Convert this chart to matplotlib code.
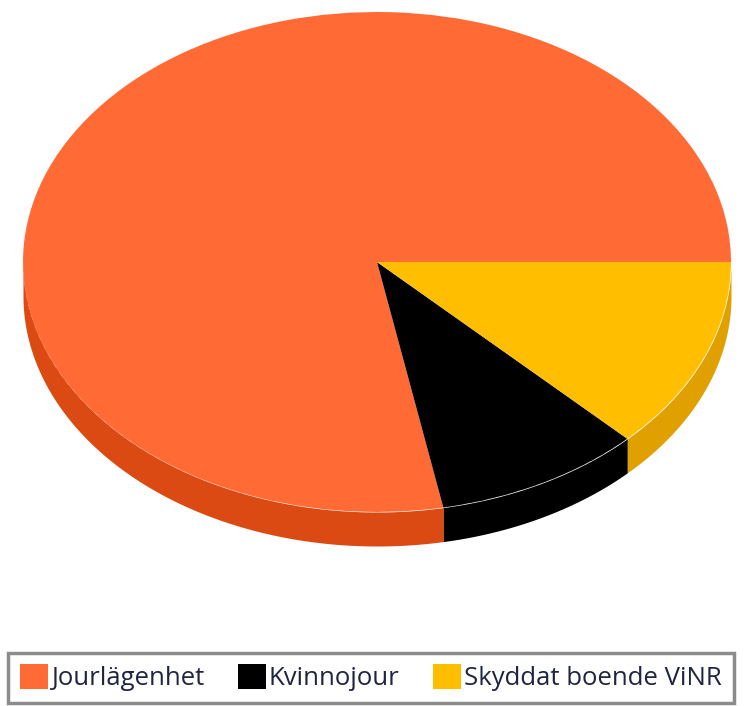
import numpy as np
import matplotlib
matplotlib.use("Agg")
import matplotlib.pyplot as plt

labels = ["Jourlägenhet", "Kvinnojour", "Skyddat boende ViNR"]
shares = [78.0, 9.5, 12.5]
top_colors = ["#FF6A35", "#000000", "#FFBF00"]
side_colors = ["#DC4A13", "#000000", "#E0A100"]

W, H = 744, 706
cx, cy, rx, ry = 377, 262, 354, 250
depth = 34 / ry

fig = plt.figure(figsize=(W / 100, H / 100), dpi=100)
ax = fig.add_axes([0, 0, 1, 1])

wedges, _ = ax.pie(shares, colors=top_colors, startangle=0, counterclock=True,
                   wedgeprops={"linewidth": 0}, radius=1)
for w in wedges:
    w.set_zorder(3)

# side wall, only the part of each slice facing the viewer
ends = np.cumsum(shares) / np.sum(shares) * 360
starts = np.r_[0, ends[:-1]]
for a, b, c in zip(starts, ends, side_colors):
    a2, b2 = max(a, 180), max(b, 180)
    if b2 <= a2:
        continue
    t = np.radians(np.linspace(a2, b2, 200))
    ax.fill_between(np.cos(t), np.sin(t), np.sin(t) - depth, color=c, lw=0, zorder=2)
    # faint light rim along the top edge
    ax.plot(np.cos(t), np.sin(t), color="white", lw=0.7, alpha=0.15, ls=(0, (6, 5)), zorder=4)

ax.set_aspect("auto")
ax.set_xlim(-cx / rx, (W - cx) / rx)
ax.set_ylim((cy - H) / ry, cy / ry)
ax.axis("off")

fs = 18.5
leg = fig.legend(wedges, labels, ncol=3, loc="lower left",
                 bbox_to_anchor=(8 / W, (H - 703) / H), bbox_transform=fig.transFigure,
                 prop={"family": "Open Sans", "size": fs},
                 frameon=True, fancybox=False, edgecolor="#707070", facecolor="white",
                 borderaxespad=0, borderpad=0.45, handlelength=1.1, handleheight=1.1,
                 handletextpad=0.12, columnspacing=1.3, labelcolor="#1F2440")
leg.get_frame().set_linewidth(2.5)

fig.savefig("out.png", dpi=100)
